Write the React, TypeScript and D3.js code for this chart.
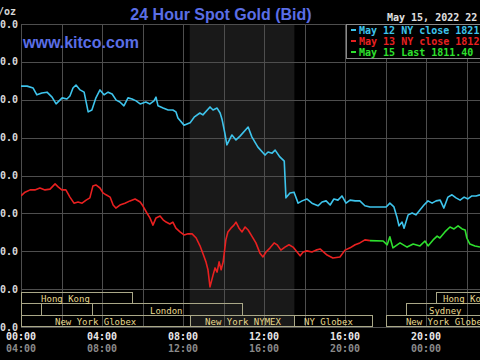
import React from "react";
import * as d3 from "d3";

// ---- data (minutes after 00:00 ET, price USD/oz) ----
const blueSeries: [number, number][] = [
  [0, 1853.6], [18, 1853.6], [36, 1853.1], [47, 1851.3], [62, 1851.8], [77, 1852.0], [92, 1850.7],
  [104, 1848.9], [122, 1850.5], [136, 1850.2], [145, 1851.0], [154, 1853.1], [163, 1853.9],
  [175, 1852.6], [187, 1852.0], [199, 1846.8], [210, 1847.3], [222, 1850.5], [234, 1852.6],
  [246, 1851.3], [258, 1852.0], [270, 1851.5], [282, 1849.9], [293, 1849.4], [305, 1848.4],
  [317, 1850.5], [329, 1850.2], [341, 1849.7], [353, 1848.9], [370, 1849.4], [382, 1848.9],
  [394, 1849.7], [400, 1850.7], [406, 1848.4], [421, 1847.8], [436, 1847.3], [450, 1847.3],
  [459, 1846.8], [465, 1845.2], [483, 1843.3], [501, 1843.9], [513, 1845.4], [530, 1846.5],
  [539, 1846.0], [560, 1848.1], [569, 1847.3], [581, 1847.8], [590, 1846.5], [596, 1844.7],
  [604, 1841.2], [610, 1838.1], [625, 1840.7], [637, 1839.4], [649, 1840.4], [673, 1842.8],
  [684, 1840.2], [702, 1837.5], [723, 1835.4], [732, 1836.2], [744, 1835.9], [753, 1836.7],
  [767, 1834.9], [780, 1833.8], [785, 1824.1], [797, 1825.4], [809, 1825.6], [821, 1822.7],
  [833, 1823.3], [847, 1823.8], [862, 1822.7], [880, 1822.0], [892, 1823.0], [904, 1823.3],
  [916, 1822.2], [927, 1823.8], [939, 1823.5], [951, 1824.6], [963, 1822.7], [975, 1823.5],
  [990, 1823.3], [1004, 1823.3], [1019, 1822.0], [1034, 1821.7], [1064, 1821.7], [1082, 1821.7],
  [1093, 1822.7], [1105, 1821.7], [1114, 1819.0], [1120, 1816.7], [1129, 1817.7], [1135, 1816.1],
  [1147, 1819.6], [1159, 1820.1], [1170, 1819.6], [1182, 1820.9], [1194, 1822.2], [1206, 1823.3],
  [1218, 1822.7], [1230, 1823.3], [1242, 1823.5], [1253, 1821.4], [1265, 1824.3], [1277, 1824.9],
  [1289, 1824.1], [1301, 1823.5], [1313, 1824.3], [1324, 1823.8], [1336, 1824.6], [1348, 1824.6],
  [1360, 1824.9],
];

const redSeries: [number, number][] = [
  [0, 1824.6], [12, 1825.6], [27, 1826.2], [41, 1826.2], [56, 1826.7], [71, 1826.2], [86, 1826.4],
  [101, 1827.8], [110, 1827.0], [121, 1826.2], [133, 1826.2], [145, 1824.3], [157, 1822.7],
  [169, 1823.0], [181, 1822.7], [193, 1823.5], [204, 1824.1], [213, 1827.2], [222, 1827.5],
  [234, 1826.7], [243, 1825.4], [252, 1824.9], [264, 1824.3], [273, 1822.2], [281, 1821.4],
  [293, 1822.2], [308, 1822.7], [323, 1823.3], [338, 1823.8], [353, 1823.0], [361, 1822.0],
  [373, 1820.1], [382, 1818.8], [391, 1816.9], [400, 1818.8], [412, 1819.3], [421, 1818.3],
  [430, 1817.7], [441, 1817.2], [450, 1817.7], [459, 1816.1], [471, 1815.1], [483, 1814.3],
  [495, 1814.6], [507, 1814.6], [519, 1813.5], [530, 1811.5], [539, 1809.4], [548, 1807.2],
  [554, 1805.1], [560, 1800.6], [569, 1803.7], [575, 1805.6], [581, 1804.5], [587, 1807.2],
  [593, 1805.1], [599, 1807.2], [607, 1813.0], [613, 1815.1], [622, 1816.1], [631, 1816.9],
  [637, 1817.7], [646, 1816.1], [655, 1815.1], [664, 1816.4], [673, 1815.6], [684, 1814.0],
  [696, 1812.2], [708, 1809.5], [717, 1808.5], [726, 1809.8], [738, 1810.9], [750, 1812.2],
  [759, 1811.7], [770, 1810.3], [782, 1811.1], [794, 1811.7], [806, 1811.1], [818, 1809.8],
  [827, 1808.8], [836, 1809.8], [847, 1810.1], [862, 1809.8], [874, 1810.3], [886, 1810.6],
  [907, 1809.0], [924, 1808.2], [945, 1808.5], [960, 1810.3], [975, 1810.9], [990, 1811.7],
  [1004, 1812.2], [1019, 1813.0], [1034, 1812.8],
];

const greenSeries: [number, number][] = [
  [1034, 1812.8], [1073, 1812.7], [1085, 1811.7], [1093, 1813.8], [1102, 1810.9], [1123, 1812.2],
  [1144, 1811.1], [1162, 1811.9], [1182, 1811.4], [1197, 1812.7], [1206, 1811.4], [1221, 1813.0],
  [1233, 1814.0], [1241, 1813.5], [1256, 1815.1], [1271, 1816.4], [1283, 1815.9], [1295, 1816.7],
  [1307, 1815.9], [1316, 1815.6], [1321, 1813.5], [1330, 1811.9], [1345, 1811.4], [1360, 1811.1],
];

const priceTicks = [1790, 1800, 1810, 1820, 1830, 1840, 1850, 1860, 1870];
const hourGrid = [0, 2, 4, 6, 8, 10, 12, 14, 16, 18, 20, 22, 24];
const nyHourLabels = ["00:00", "04:00", "08:00", "12:00", "16:00", "20:00", "00:00"];
const gmtHourLabels = ["04:00", "08:00", "12:00", "16:00", "20:00", "00:00", "04:00"];
const labelHours = [0, 4, 8, 12, 16, 20, 24];

const legendLabels = ["May 12 NY close 1821", "May 13 NY close 1812", "May 15 Last 1811.40"];
const legendColors = ["#3ec4ec", "#e82020", "#2ee02e"];

const nymexStart = 8 + 20 / 60;
const nymexEnd = 13.5;

const sessionNames = ["Hong Kong", "", "London", "New York Globex", "New York NYMEX", "NY Globex", "New York Globex", "Sydney", "Hong Kong"];
const sessionRows = [0, 1, 1, 2, 2, 2, 2, 1, 0];
const sessionStart = [0, 0, 3.5, 0, nymexStart, nymexEnd, 18, 19, 20.5];
const sessionEnd = [5.5, 1, 10.9, nymexStart, nymexEnd, 17.33, 26, 26, 26];
const sessionLabelHour = [0.99, 0, 6.37, 1.68, 9.09, 13.98, 19.01, 20.15, 20.84];

const MONO = "'DejaVu Sans Mono', monospace";
const SANS = "'Liberation Sans', Arial, sans-serif";

export default function App() {
  const W = 480, H = 360;
  const x = d3.scaleLinear().domain([0, 24 * 60]).range([21, 507]);
  const y = d3.scaleLinear().domain([1790, 1870]).range([327, 24]);
  const line = d3
    .line<[number, number]>()
    .x((d) => x(d[0]))
    .y((d) => y(d[1]));

  const rowTop = [292.5, 303.5, 315.5];
  const rowBottom = [303.5, 315.5, 326.5];
  const hx = (h: number) => x(h * 60);

  return (
    <div style={{ position: "absolute", left: 0, top: 0 }}>
      <svg width={W} height={H} style={{ display: "block", background: "#000" }}>
        <rect x={0} y={0} width={W} height={H} fill="#000" />
        <defs>
          <clipPath id="plot">
            <rect x={x(0)} y={y(1870)} width={x(1440) - x(0)} height={y(1790) - y(1870)} />
          </clipPath>
        </defs>
        {/* NYMEX shade */}
        <rect
          x={hx(nymexStart)}
          y={y(1870)}
          width={hx(nymexEnd) - hx(nymexStart)}
          height={y(1790) - y(1870)}
          fill="#191919"
        />
        {/* grid */}
        {priceTicks.map((v) => (
          <line key={"h" + v} x1={x(0)} x2={x(1440)} y1={Math.round(y(v)) + 0.5} y2={Math.round(y(v)) + 0.5} stroke="#4e4e4e" strokeWidth={1} />
        ))}
        {hourGrid.map((h) => (
          <line key={"v" + h} x1={Math.round(hx(h)) + 0.5} x2={Math.round(hx(h)) + 0.5} y1={y(1870)} y2={y(1790)} stroke="#4e4e4e" strokeWidth={1} />
        ))}
        {/* y labels */}
        {priceTicks.map((v) => (
          <text key={"yl" + v} x={18} y={y(v)} dy="0.35em" textAnchor="end" fill="#d8d8d8" fontFamily={MONO} fontSize={10} fontWeight="bold">
            {v.toFixed(1)}
          </text>
        ))}
        <text x={16} y={15} textAnchor="end" fill="#d8d8d8" fontFamily={MONO} fontSize={10} fontWeight="bold">
          USD/oz
        </text>
        {/* series */}
        <g clipPath="url(#plot)" fill="none" strokeWidth={1.6} strokeLinejoin="round">
          <path d={line(blueSeries) || ""} stroke={legendColors[0]} />
          <path d={line(redSeries) || ""} stroke={legendColors[1]} />
          <path d={line(greenSeries) || ""} stroke={legendColors[2]} />
        </g>
        {/* exchange sessions */}
        {sessionNames.map((name, i) => {
          const r = sessionRows[i];
          const x1 = Math.round(hx(sessionStart[i])) + 0.5;
          const x2 = Math.round(hx(sessionEnd[i])) + 0.5;
          return (
            <g key={"s" + i}>
              <rect x={x1} y={rowTop[r]} width={x2 - x1} height={rowBottom[r] - rowTop[r]} fill="none" stroke="#aaa888" strokeWidth={1} />
              {name && (
                <text x={hx(sessionLabelHour[i])} y={rowBottom[r] - 2} fill="#e8d88c" fontFamily={MONO} fontSize={9}>
                  {name}
                </text>
              )}
            </g>
          );
        })}
        {/* x labels */}
        {labelHours.map((h, i) => (
          <g key={"xl" + h}>
            <text x={hx(h)} y={340} textAnchor="middle" fill="#e8e8e8" fontFamily={MONO} fontSize={10} fontWeight="bold">
              {nyHourLabels[i]}
            </text>
            <text x={hx(h)} y={352} textAnchor="middle" fill="#8a8a8a" fontFamily={MONO} fontSize={10} fontWeight="bold">
              {gmtHourLabels[i]}
            </text>
          </g>
        ))}
        {/* legend */}
        <rect x={346.5} y={24.5} width={150} height={34} fill="#000" stroke="#8a8a8a" strokeWidth={1} />
        {legendLabels.map((t, i) => (
          <g key={"lg" + i}>
            <rect x={351} y={34 + i * 11 - 5} width={5} height={2} fill={legendColors[i]} />
            <text x={359} y={34 + i * 11} fill={legendColors[i]} fontFamily={MONO} fontSize={10} fontWeight="bold">
              {t}
            </text>
          </g>
        ))}
        {/* titles */}
        <text x={221} y={20} textAnchor="middle" fill="#5a6ee6" fontFamily={SANS} fontSize={16} fontWeight="bold">
          24 Hour Spot Gold (Bid)
        </text>
        <text x={23} y={48} fill="#5a6ee6" fontFamily={SANS} fontSize={16} fontWeight="bold">
          www.kitco.com
        </text>
        <text x={387} y={21} fill="#e0e0e0" fontFamily={MONO} fontSize={10} fontWeight="bold">
          May 15, 2022 22
        </text>
      </svg>
    </div>
  );
}
